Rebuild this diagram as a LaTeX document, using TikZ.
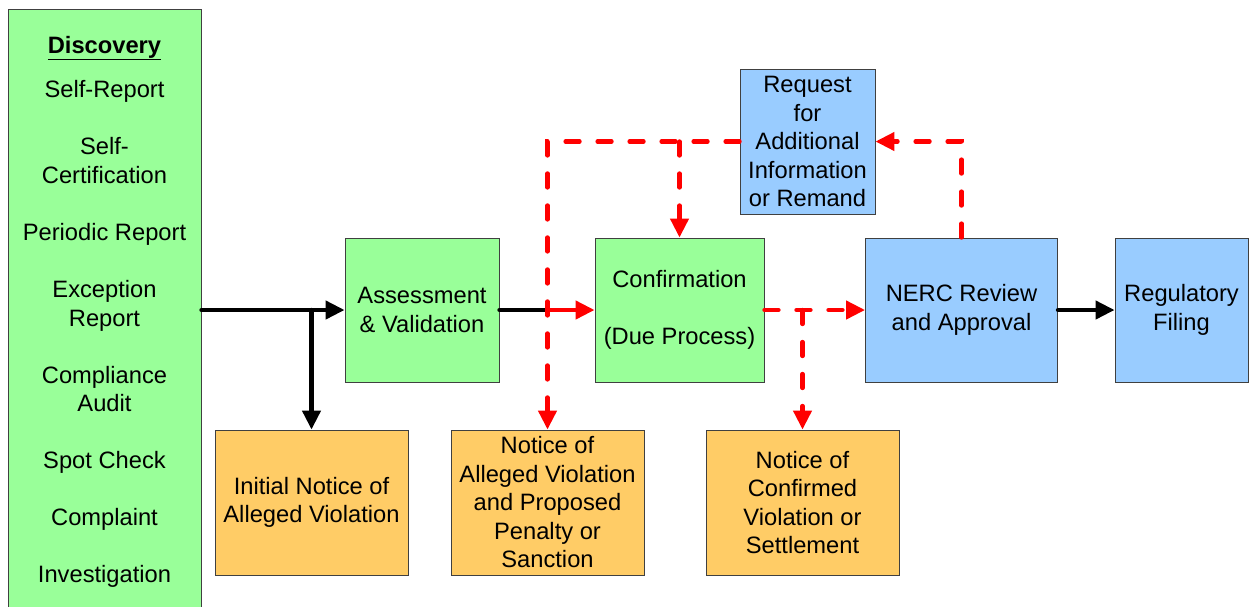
\documentclass[tikz,border=0pt]{standalone}
\usepackage{fontspec}
\setmainfont{Liberation Sans}
\usetikzlibrary{arrows.meta}
\definecolor{gfill}{RGB}{153,255,153}
\definecolor{bfill}{RGB}{153,204,255}
\definecolor{ofill}{RGB}{255,204,102}
\definecolor{rline}{RGB}{255,0,0}
\begin{document}
\begin{tikzpicture}[x=1pt,y=-1pt,
  box/.style={draw=black!75, line width=0.9pt, inner sep=0pt, align=center,
    font=\fontsize{23.7}{28.5}\selectfont},
  gbox/.style={box, fill=gfill},
  bbox/.style={box, fill=bfill},
  obox/.style={box, fill=ofill},
  dtext/.style={anchor=base, inner sep=0pt, font=\fontsize{23.7}{28.5}\selectfont},
  tip/.style={-{Triangle[length=19pt,width=18pt]}},
  blk/.style={line width=4.3pt, line cap=round, tip},
  rsolid/.style={rline, line width=4.3pt, tip},
  rdash/.style={rline, line width=4.3pt, line cap=round, dash pattern=on 14pt off 18pt, tip}
]
\useasboundingbox (0,0) rectangle (1249,606);
% boxes
\node[gbox, minimum width=193pt, minimum height=603pt] (disc) at (104.5,310.5) {};
\node[gbox, minimum width=154pt, minimum height=144pt] (assess) at (422,310) {Assessment\\\& Validation};
\node[gbox, minimum width=169pt, minimum height=144pt] (conf) at (679.5,310) {Confirmation\\[28.5pt](Due Process)};
\node[bbox, minimum width=192pt, minimum height=144pt] (nerc) at (961.5,310) {NERC Review\\and Approval};
\node[bbox, minimum width=133pt, minimum height=144pt] (reg) at (1181.5,310) {Regulatory\\Filing};
\node[bbox, minimum width=135pt, minimum height=145pt] (req) at (807.5,141.5) {Request\\for\\Additional\\Information\\or Remand};
\node[obox, minimum width=193pt, minimum height=145pt] (init) at (311.5,502.5) {Initial Notice of\\Alleged Violation};
\node[obox, minimum width=193pt, minimum height=145pt] (nav) at (547.5,502.5) {Notice of\\Alleged Violation\\and Proposed\\Penalty or\\Sanction};
\node[obox, minimum width=193pt, minimum height=145pt] (ncv) at (802.5,502.5) {Notice of\\Confirmed\\Violation or\\Settlement};
% discovery texts
\node[dtext] (d0) at (104.5,53) {\underline{\textbf{Discovery}}};
\node[dtext] (d1) at (104.5,97) {Self-Report};
\node[dtext] (d2) at (104.5,154) {Self-};
\node[dtext] (d3) at (104.5,183) {Certification};
\node[dtext] (d4) at (104.5,240) {Periodic Report};
\node[dtext] (d5) at (104.5,297) {Exception};
\node[dtext] (d6) at (104.5,326) {Report};
\node[dtext] (d7) at (104.5,383) {Compliance};
\node[dtext] (d8) at (104.5,411) {Audit};
\node[dtext] (d9) at (104.5,468) {Spot Check};
\node[dtext] (d10) at (104.5,525) {Complaint};
\node[dtext] (d11) at (104.5,582) {Investigation};
% connectors
\draw[blk] (assess.west -| disc.east) -- (assess.west);
\draw[blk] (init.north |- assess.west) -- (init.north);
\coordinate (j1) at (nav.north |- assess.east);
\draw[line width=4.3pt, line cap=round] (assess.east) -- (j1);
\draw[rsolid] (j1) -- (conf.west);
\draw[rdash] (req.west) -- (nav.north |- req.west) -- (nav.north);
\draw[rdash] (conf.north |- req.west) -- (conf.north);
\draw[rdash] (conf.east) -- (nerc.west);
\draw[rdash] (ncv.north |- conf.east) -- (ncv.north);
\draw[rdash] (nerc.north) -- (nerc.north |- req.east) -- (req.east);
\draw[blk] (nerc.east) -- (reg.west);
\end{tikzpicture}
\end{document}
